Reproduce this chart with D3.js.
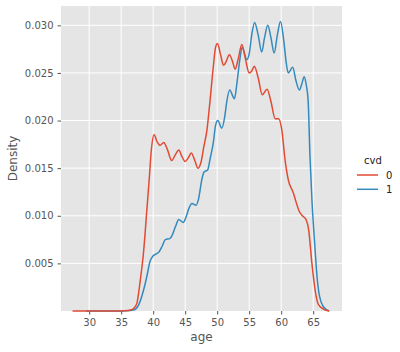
<!DOCTYPE html>
<html><head><meta charset="utf-8">
<script src="https://cdn.jsdelivr.net/npm/d3@7"></script>
<style>body{margin:0;background:#fff}svg{display:block;font-family:"DejaVu Sans",sans-serif}</style>
</head><body><svg id="c" width="400" height="352"></svg>
<script>
const ageTicks=[30,35,40,45,50,55,60,65];
const densTicks=[0.005,0.010,0.015,0.020,0.025,0.030];
const hueLevels=["0","1"];
const colors=["#E24A33","#348ABD"];
const age0=[27.4,30,34,35.5,36.5,37.0,37.45,38.0,38.5,39.0,39.4,39.7,40.15,40.6,41.1,41.65,42.2,42.9,43.45,44.0,44.5,45.0,45.5,45.95,46.5,47.0,47.5,47.9,48.4,48.9,49.4,49.75,50.05,50.5,51.0,51.4,51.9,52.4,52.8,53.3,53.85,54.4,55.0,55.4,55.8,56.4,57.05,57.8,58.4,59.05,59.6,60.1,60.6,61.1,61.9,62.3,62.8,63.3,63.8,64.3,64.8,65.3,65.8,66.6,67.5];
const dens0=[0,0,0,0.00002,0.0001,0.0003,0.0008,0.0033,0.0062,0.0105,0.0140,0.0168,0.0185,0.0178,0.0174,0.0177,0.0170,0.0158,0.0164,0.0169,0.0162,0.0157,0.0161,0.0166,0.0158,0.0150,0.0157,0.0172,0.0190,0.0222,0.0257,0.0277,0.0281,0.0270,0.0258,0.0262,0.0269,0.0262,0.0254,0.0265,0.0280,0.0265,0.0250,0.0252,0.0257,0.0245,0.0227,0.0233,0.0220,0.0202,0.0202,0.0190,0.0159,0.0138,0.0124,0.0115,0.0105,0.0100,0.0097,0.0085,0.0050,0.0022,0.0007,0.0002,0];
const age1=[29.5,34,36.0,36.9,37.7,38.5,39.0,39.5,40.0,40.5,40.9,41.4,41.9,42.6,43.0,43.5,44.0,44.7,45.1,45.6,46.05,46.7,47.1,47.6,47.95,48.5,48.9,49.4,49.75,50.1,50.7,51.2,51.5,51.95,52.7,53.1,53.5,53.9,54.65,55.0,55.4,55.85,56.4,56.95,57.4,57.9,58.4,58.9,59.4,59.9,60.4,60.8,61.1,61.8,62.3,62.85,63.2,63.6,63.9,64.2,64.5,64.8,65.3,65.6,66.0,66.6,67.5];
const dens1=[0,0,0.00002,0.0001,0.0006,0.0022,0.0036,0.0052,0.0058,0.0060,0.0062,0.0068,0.0075,0.0076,0.0080,0.0089,0.0096,0.0093,0.0098,0.0108,0.0113,0.0111,0.0118,0.0138,0.0146,0.0148,0.0160,0.0177,0.0195,0.0200,0.0192,0.0205,0.0220,0.0232,0.0223,0.0240,0.0262,0.0277,0.0264,0.0270,0.0290,0.0303,0.0290,0.0272,0.0287,0.0300,0.0287,0.0271,0.0290,0.0304,0.0284,0.0260,0.0250,0.0256,0.0242,0.0232,0.0238,0.0246,0.0238,0.0222,0.0162,0.0117,0.0064,0.0036,0.0015,0.00045,0];

const L=61,R=342,T=6,B=311;
const x=d3.scaleLinear().domain([25.6,69.5]).range([L,R]);
const y=d3.scaleLinear().domain([0,0.03203]).range([B,T]);
const svg=d3.select("#c");
svg.append("rect").attr("x",L).attr("y",T).attr("width",R-L).attr("height",B-T).attr("fill","#E5E5E5");
const g=svg.append("g");
ageTicks.forEach(t=>g.append("line").attr("x1",x(t)).attr("x2",x(t)).attr("y1",T).attr("y2",B).attr("stroke","#fff").attr("stroke-width",1));
densTicks.forEach(t=>g.append("line").attr("y1",y(t)).attr("y2",y(t)).attr("x1",L).attr("x2",R).attr("stroke","#fff").attr("stroke-width",1));

const xa=svg.append("g").attr("transform",`translate(0,${B})`).call(d3.axisBottom(x).tickValues(ageTicks).tickSize(3.5).tickPadding(4).tickFormat(d3.format("d")));
const ya=svg.append("g").attr("transform",`translate(${L},0)`).call(d3.axisLeft(y).tickValues(densTicks).tickSize(3.5).tickPadding(4).tickFormat(d3.format(".3f")));
[xa,ya].forEach(a=>{a.select(".domain").remove();a.selectAll("line").attr("stroke","#555");a.selectAll("text").attr("fill","#555").attr("font-size",10).attr("font-family","DejaVu Sans");});

const line=d3.line().x(d=>x(d[0])).y(d=>y(d[1])).curve(d3.curveMonotoneX);
const series=[d3.zip(age0,dens0),d3.zip(age1,dens1)];
[1,0].forEach(i=>svg.append("path").datum(series[i]).attr("d",line).attr("fill","none").attr("stroke",colors[i]).attr("stroke-width",1.5).attr("stroke-linejoin","round"));

svg.append("text").attr("x",(L+R)/2).attr("y",341).attr("text-anchor","middle").attr("fill","#555").attr("font-size",12).text("age");
svg.append("text").attr("transform",`translate(17,${(T+B)/2}) rotate(-90)`).attr("text-anchor","middle").attr("fill","#555").attr("font-size",12).text("Density");

const lg=svg.append("g");
lg.append("text").attr("x",373).attr("y",164).attr("text-anchor","middle").attr("fill","#222").attr("font-size",10).text("cvd");
hueLevels.forEach((h,i)=>{
  const yy=175+i*14.3;
  lg.append("line").attr("x1",357).attr("x2",378).attr("y1",yy).attr("y2",yy).attr("stroke",colors[i]).attr("stroke-width",1.5);
  lg.append("text").attr("x",386).attr("y",yy+3.6).attr("fill","#222").attr("font-size",10).text(h);
});
</script></body></html>
